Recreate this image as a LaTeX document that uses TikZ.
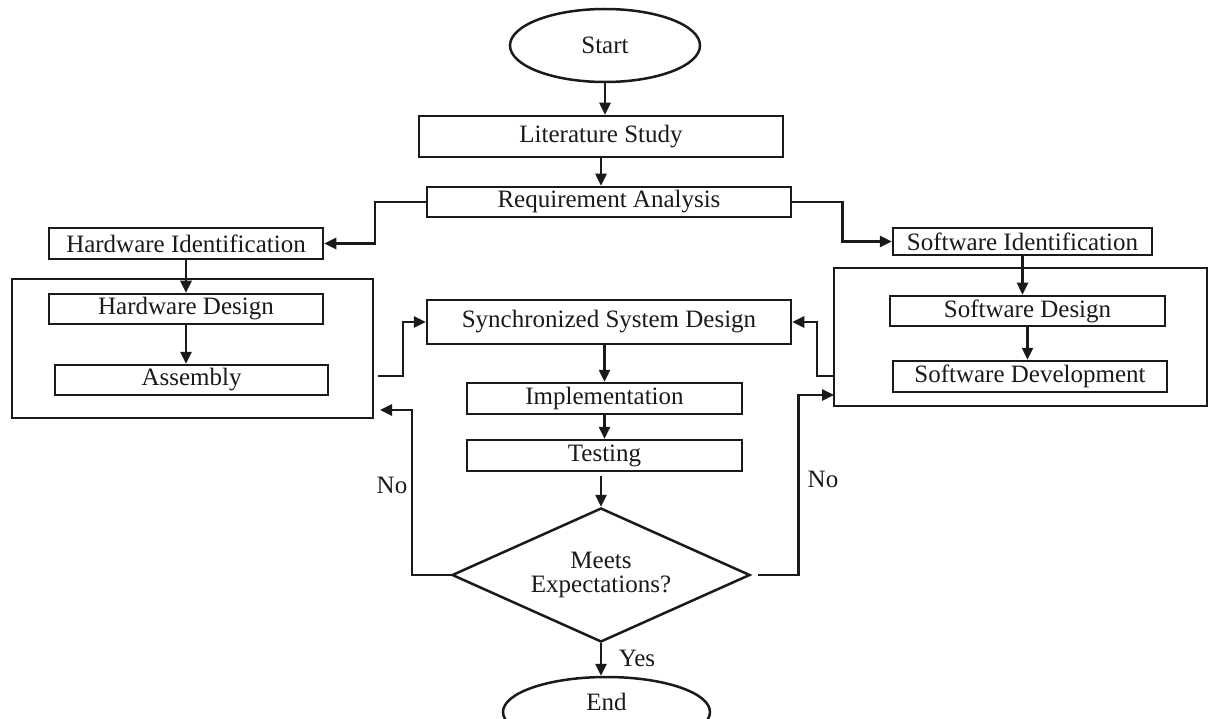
\documentclass[tikz,border=0pt]{standalone}
\usepackage{fontspec}
\setmainfont{Liberation Serif}
\usetikzlibrary{shapes.geometric,arrows.meta,calc}
\definecolor{ink}{HTML}{1A1A1A}
\begin{document}
\begin{tikzpicture}[x=1pt,y=-1pt,
  every node/.style={font=\fontsize{25}{28}\selectfont, text=ink},
  box/.style={draw=ink, line width=2.5pt, rectangle, inner sep=0pt},
  outer/.style={draw=ink, line width=2.5pt, rectangle, inner sep=0pt},
  oval/.style={draw=ink, line width=2.5pt, ellipse, inner sep=0pt},
  decision/.style={draw=ink, line width=2.5pt, diamond, aspect=2.22, inner sep=0pt, align=center},
  arr/.style={draw=ink, line width=2.5pt, -{Triangle[length=12pt,width=11pt]}},
  lbl/.style={inner sep=0pt}]
\useasboundingbox[fill=white] (0,0) rectangle (1210,719);
% outer groups
\node[outer, minimum width=361, minimum height=139] (hwbox) at (192.5,348.5) {};
\node[outer, minimum width=373, minimum height=138] (swbox) at (1020.5,337) {};
% main nodes
\node[oval, minimum width=190, minimum height=73] (start) at (605,45.5) {Start};
\node[box, minimum width=364, minimum height=41] (ls) at (601,136.5) {Literature Study};
\node[box, minimum width=364, minimum height=30] (ra) at (609,202) {Requirement Analysis};
\node[box, minimum width=274, minimum height=31] (hi) at (186,243.5) {Hardware Identification};
\node[box, minimum width=259, minimum height=27] (si) at (1022.5,241.5) {Software Identification};
\node[box, minimum width=274, minimum height=30] (hd) at (186,309) {Hardware Design};
\node[box, minimum width=273, minimum height=30] (asm) at (191.5,380) {Assembly};
\node[box, minimum width=275, minimum height=30] (sd) at (1027.5,311) {Software Design};
\node[box, minimum width=274, minimum height=31] (sdev) at (1030,376.5) {Software Development};
\node[box, minimum width=364, minimum height=44] (ssd) at (609,322) {Synchronized System Design};
\node[box, minimum width=275, minimum height=31] (impl) at (604.5,398.5) {Implementation};
\node[box, minimum width=275, minimum height=31] (test) at (604.5,455.5) {Testing};
\node[decision, minimum width=298, minimum height=134] (dia) at (601,575) {Meets\\[-4pt]Expectations?};
\node[oval, minimum width=207, minimum height=70] (end) at (606.5,712) {};
\node[lbl] (endtxt) at (606.5,702) {End};
% free-end coordinates at the group boxes
\coordinate (hwout) at (378,376);
\coordinate (swout) at (834,376);
\coordinate (hwin) at (380,410);
\coordinate (swin) at (834,395);
% connectors
\draw[arr] (start.south) -- (start.south |- ls.north);
\draw[arr] (ls.south) -- (ls.south |- ra.north);
\draw[arr] (ra.west) -- ++(-51,0) |- (hi.east);
\draw[arr] (ra.east) -- ++(50,0) |- (si.west);
\draw[arr] (hi.south) -- (hi.south |- hd.north);
\draw[arr] (hd.south) -- (hd.south |- asm.north);
\draw[arr] (si.south) -- (si.south |- sd.north);
\draw[arr] (sd.south) -- (sd.south |- sdev.north);
\draw[arr] (hwout) -- ++(25,0) |- (ssd.west);
\draw[arr] (swout) -- ++(-17,0) |- (ssd.east);
\draw[arr] (impl.north |- ssd.south) -- (impl.north);
\draw[arr] (impl.south) -- (test.north);
\draw[arr] ([yshift=-4pt]dia.north |- test.south) -- (dia.north);
\draw[arr] (dia.west) -- ++(-39,0) |- (hwin);
\draw[arr] ([xshift=7pt]dia.east) -- ++(40,0) |- (swin);
\draw[arr] (dia.south) -- (dia.south |- end.north);
% labels
\node[lbl] (no1) at (392,485) {No};
\node[lbl] (no2) at (823,479) {No};
\node[lbl] (yes) at (637,658) {Yes};
\end{tikzpicture}
\end{document}
